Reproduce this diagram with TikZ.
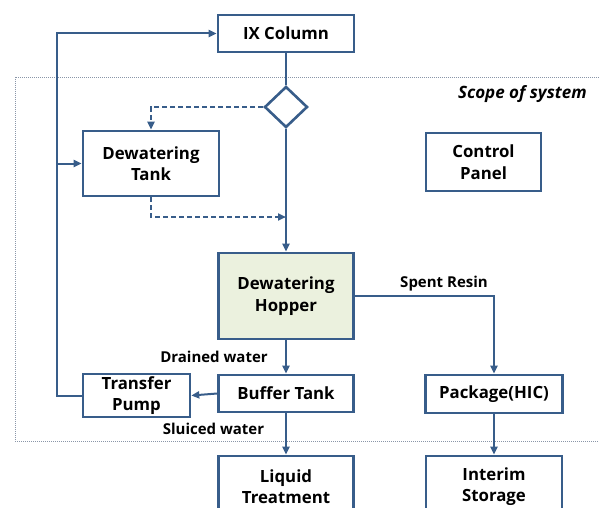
\documentclass[tikz,border=0pt]{standalone}
\usepackage{fontspec}
\setmainfont{Open Sans}
\usepackage{xcolor}
\definecolor{linecolor}{HTML}{385D8A}
\definecolor{hoppercolor}{HTML}{EBF1DE}
\definecolor{scopecolor}{HTML}{8A96A8}
\usepackage{tikz}
\usetikzlibrary{%
        calc,
        math,
        shapes.geometric, % 菱形
        arrows.meta, % 自定义箭头样式
    }

\begin{document}
\begin{tikzpicture}[x=1pt, y=-1pt, line width=2pt, color=linecolor]
    \tikzmath{%
        % 列
        \xmain=286;
        \xleft=151;
        \xright=494;
        \xloop=57;
    };

    \tikzset{%
        unit/.style={draw=linecolor, line width=2.6pt, fill=white, text=black, font=\bfseries\fontsize{16.8}{21.5}\selectfont, align=center, inner sep=0pt},
        flow/.style={-{Triangle[length=8pt, width=7pt]}},
        label/.style={text=black, font=\bfseries\fontsize{15}{18}\selectfont},
    }

    \useasboundingbox (0, 0) rectangle (599, 508);

    % 系统范围
    \draw [scopecolor, line width=0.8pt, dash pattern=on 1pt off 1pt] (15, 77) rectangle (612, 441);
    \node (scope) [anchor=east, text=black, font=\bfseries\itshape\fontsize{17}{20}\selectfont] at (591, 94) {Scope of system};

    % 设备
    \node (ix) [unit, minimum width=136pt, minimum height=37pt] at (\xmain, 33.5) {IX Column};
    \node (valve) [draw=linecolor, line width=2.6pt, diamond, minimum width=43pt, minimum height=41pt, inner sep=0pt] at (\xmain, 107) {};
    \node (tank) [unit, minimum width=136pt, minimum height=65pt] at (\xleft, 163.5) {Dewatering\\Tank};
    \node (panel) [unit, minimum width=115pt, minimum height=58pt] at (483.5, 162) {Control\\Panel};
    \node (hopper) [unit, fill=hoppercolor, minimum width=135pt, minimum height=86pt] at (\xmain, 296) {Dewatering\\Hopper};
    \node (buffer) [unit, minimum width=135pt, minimum height=37pt] at (\xmain, 393.5) {Buffer Tank};
    \node (pump) [unit, minimum width=107pt, minimum height=43pt] at (136.5, 395.5) {Transfer\\Pump};
    \node (package) [unit, minimum width=137pt, minimum height=38pt] at (\xright, 394) {Package(HIC)};
    \node (liquid) [unit, minimum width=135pt, minimum height=61pt] at (\xmain, 486.5) {Liquid\\Treatment};
    \node (storage) [unit, minimum width=136pt, minimum height=61pt] at (\xright, 486.5) {Interim\\Storage};

    % 辅助坐标
    \coordinate (loop) at (\xloop, 0);
    \coordinate (merge) at (\xmain, 217);

    % 主流程
    \draw (ix.south) -- (valve.north);
    \draw [flow] (valve.south) -- (hopper.north);
    \draw [flow] (hopper.south) -- (buffer.north);
    \draw [flow] (buffer.south) -- (liquid.north);
    \draw [flow] (buffer.west) -- (pump.east);
    \draw [flow] (hopper.east) -| (package.north);
    \draw [flow] (package.south) -- (storage.north);

    % 脱水罐支路
    \draw [flow, dash pattern=on 5pt off 3pt] (valve.west) -| (tank.north);
    \draw [flow, dash pattern=on 5pt off 3pt] (tank.south) |- (merge);

    % 回流
    \draw [flow] (pump.west) -- (pump.west -| loop) |- (ix.west);
    \draw [flow] (tank.west -| loop) -- (tank.west);

    % 文字
    \node (drained) [label] at (214, 357) {Drained water};
    \node (sluiced) [label] at (213.5, 429) {Sluiced water};
    \node (spent) [label] at (444, 284) {Spent Resin};
\end{tikzpicture}
\end{document}
